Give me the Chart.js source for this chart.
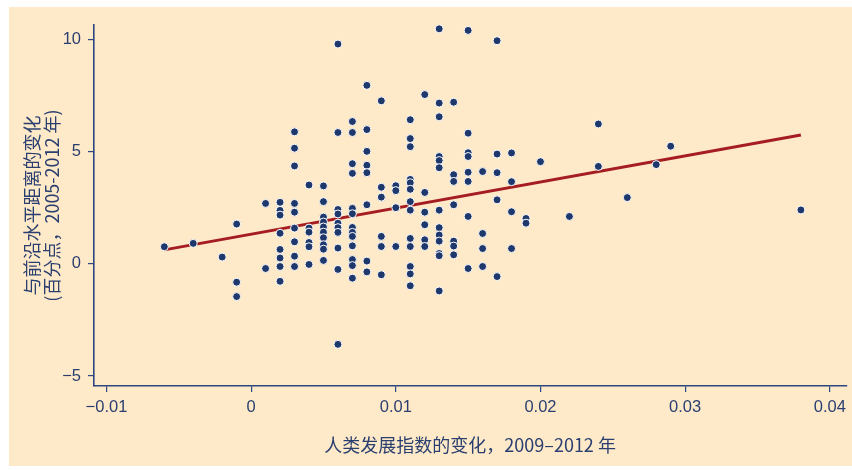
<!DOCTYPE html>
<html><head><meta charset="utf-8">
<script src="https://cdn.jsdelivr.net/npm/chart.js@4/dist/chart.umd.min.js"></script>
<style>html,body{margin:0;padding:0;background:#fff;}#wrap{width:852px;height:470px;}</style>
</head><body><div id="wrap"><canvas id="c" width="852" height="470"></canvas></div>
<script>
// HDI change columns (x) and the gap-to-frontier changes found in each column (y)
const hdiSteps = [-0.006,-0.004,-0.002,-0.001,0.001,0.002,0.003,0.004,0.005,0.006,0.007,0.008,0.009,0.010,0.011,0.012,0.013,0.014,0.015,0.016,0.017,0.018,0.019,0.020,0.022,0.024,0.026,0.028,0.029,0.038];
const gapByStep = [
  [0.76],
  [0.91],
  [0.30],
  [1.77,-0.82,-1.46],
  [2.69,-0.21],
  [2.74,2.38,2.17,1.36,0.64,0.26,-0.12,-0.78],
  [5.88,5.15,4.36,2.69,2.30,1.59,0.98,0.34,-0.12],
  [3.51,1.59,1.41,0.95,0.76,-0.03],
  [3.47,2.77,2.08,1.86,1.64,1.41,1.16,0.85,0.65,0.15],
  [9.79,5.85,2.42,2.22,1.81,1.61,1.40,0.70,-0.25,-3.59],
  [6.34,5.85,4.46,4.03,2.47,2.23,1.62,1.40,1.22,0.80,0.19,-0.08,-0.64],
  [7.95,5.98,5.01,4.39,4.06,2.63,0.12,-0.36],
  [7.26,3.41,2.97,1.22,0.77,-0.49],
  [3.48,3.26,2.50,0.77],
  [6.42,5.58,5.22,3.76,3.61,3.32,2.77,2.39,1.13,0.77,-0.12,-0.45,-0.98],
  [7.54,3.18,2.30,1.74,1.07,0.77],
  [10.47,7.16,6.55,4.78,4.60,4.28,2.39,1.61,1.28,1.01,0.46,0.36,-1.21],
  [7.20,3.97,3.67,2.63,1.01,0.79,0.40],
  [10.40,5.82,4.95,4.78,4.08,3.67,2.11,-0.21],
  [4.11,1.35,0.68,-0.12],
  [9.94,4.89,4.06,2.85,-0.57],
  [4.94,3.66,2.32,0.68],
  [2.02,1.81],
  [4.55],
  [2.11],
  [6.23,4.34],
  [2.95],
  [4.42],
  [5.24],
  [2.40]
];
// fitted trend line end points
const fitX = [-0.006, 0.038];
const fitY = [0.62, 5.74];
// ticks
const xTickValues = [-0.01, 0, 0.01, 0.02, 0.03, 0.04];
const xTickLabels = ['\u22120.01', '0', '0.01', '0.02', '0.03', '0.04'];
const yTickValues = [10, 5, 0, -5];
const yTickLabels = ['10', '5', '0', '\u22125'];
const xTitle = '人类发展指数的变化，2009–2012 年';
const yTitle = ['与前沿水平距离的变化', '(百分点，2005-2012 年)'];

const navy = '#1e386c';
const textColor = '#2a3f70';
const axisColor = '#2c4681';
const peach = '#fee9c8';
const red = '#a51d21';

const points = [];
hdiSteps.forEach((x, i) => gapByStep[i].forEach(y => points.push({x, y})));
const fitPoints = fitX.map((x, i) => ({x, y: fitY[i]}));

const bgPlugin = {
  id: 'bg',
  beforeDraw(chart) {
    const ctx = chart.ctx;
    ctx.save();
    ctx.fillStyle = '#ffffff';
    ctx.fillRect(0, 0, chart.width, chart.height);
    ctx.fillStyle = peach;
    ctx.fillRect(9, 7, chart.width - 9, chart.height - 11);
    ctx.restore();
  }
};

const tickFont = {family: "'Liberation Sans', 'Noto Sans', sans-serif", size: 16.5};
const titleFont = {family: "'Noto Sans CJK SC', 'Noto Sans', sans-serif", size: 18, lineHeight: 1.15};

new Chart(document.getElementById('c'), {
  type: 'scatter',
  data: {
    datasets: [
      {
        data: points,
        backgroundColor: navy,
        borderColor: '#ffffff',
        borderWidth: 1,
        pointRadius: 4,
        order: 0
      },
      {
        data: fitPoints,
        showLine: true,
        borderColor: red,
        borderWidth: 3,
        pointRadius: 0,
        fill: false,
        order: 1
      }
    ]
  },
  options: {
    responsive: false,
    animation: false,
    devicePixelRatio: 1,
    layout: {padding: {left: 9, top: 25, right: 2, bottom: 0}},
    plugins: {legend: {display: false}, tooltip: {enabled: false}},
    scales: {
      x: {
        type: 'linear',
        min: -0.01086,
        max: 0.04113,
        afterBuildTicks: s => { s.ticks = xTickValues.map(v => ({value: v})); },
        afterFit: s => { s.height = 84; },
        ticks: {
          color: textColor, font: tickFont, padding: 6, maxRotation: 0, autoSkip: false,
          callback: (v, i) => xTickLabels[i]
        },
        grid: {display: true, drawOnChartArea: false, drawTicks: true, tickLength: 6, color: axisColor, lineWidth: 1.2},
        border: {display: true, color: axisColor, width: 1.6},
        title: {display: true, text: xTitle, color: textColor, font: {family: "'Noto Sans CJK SC', 'Noto Sans', sans-serif", size: 18, lineHeight: 1.2}, padding: {top: 0, bottom: 14}}
      },
      y: {
        type: 'linear',
        min: -5.445,
        max: 10.64,
        afterBuildTicks: s => { s.ticks = yTickValues.map(v => ({value: v})); },
        afterFit: s => { s.width = 85; },
        ticks: {
          color: textColor, font: tickFont, padding: 7, autoSkip: false,
          callback: (v, i) => yTickLabels[i]
        },
        grid: {display: true, drawOnChartArea: false, drawTicks: true, tickLength: 6, color: axisColor, lineWidth: 1.2},
        border: {display: true, color: axisColor, width: 1.6},
        title: {display: true, text: yTitle, color: textColor, font: titleFont, padding: {top: 12.6, bottom: 0}}
      }
    }
  },
  plugins: [bgPlugin]
});
</script>
</body></html>
